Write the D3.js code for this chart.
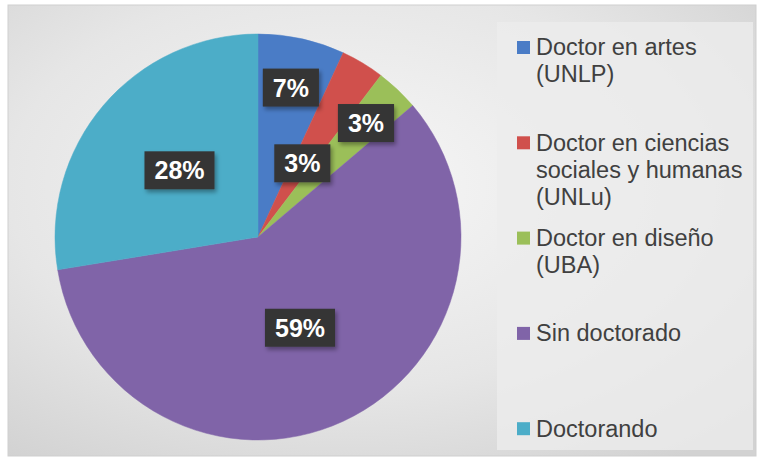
<!DOCTYPE html>
<html lang="es">
<head>
<meta charset="utf-8">
<script src="https://cdn.jsdelivr.net/npm/d3@7"></script>
<style>
    body { margin: 0; background: #fff; }
    svg { display: block; font-family: "Liberation Sans", Arial, sans-serif; }
</style>
</head>
<body>
<div id="chart"></div>
<script>
    // data: counts behind the rounded percentages
    const categories = [
        'Doctor en artes (UNLP)',
        'Doctor en ciencias sociales y humanas (UNLu)',
        'Doctor en diseño (UBA)',
        'Sin doctorado',
        'Doctorando'
    ];
    const values = [2, 1, 1, 17, 8];
    const legendLines = [
        ['Doctor en artes', '(UNLP)'],
        ['Doctor en ciencias', 'sociales y humanas', '(UNLu)'],
        ['Doctor en diseño', '(UBA)'],
        ['Sin doctorado'],
        ['Doctorando']
    ];
    const colors = ['#4a7cc6', '#d0504c', '#9bbf59', '#8064a8', '#4cadc8'];
    // where Excel put each data label (distance from centre, px)
    const labelRadius = [153, 86, 157, 100, 103];

    const width = 762, height = 465;
    const cx = 258, cy = 237, radius = 203;

    const svg = d3.select('#chart').append('svg')
        .attr('width', width).attr('height', height);

    const defs = svg.append('defs');
    const bg = defs.append('radialGradient')
        .attr('id', 'bg')
        .attr('cx', '0.45').attr('cy', '0.4').attr('r', '0.75');
    bg.append('stop').attr('offset', '0%').attr('stop-color', '#f7f7f7');
    bg.append('stop').attr('offset', '60%').attr('stop-color', '#e6e6e6');
    bg.append('stop').attr('offset', '100%').attr('stop-color', '#d2d2d2');

    const shadow = defs.append('filter').attr('id', 'shadow')
        .attr('x', '-20%').attr('y', '-20%').attr('width', '150%').attr('height', '160%');
    shadow.append('feDropShadow')
        .attr('dx', 2).attr('dy', 3).attr('stdDeviation', 2)
        .attr('flood-color', '#000').attr('flood-opacity', 0.35);

    // chart area frame
    svg.append('rect')
        .attr('x', 8).attr('y', 5)
        .attr('width', 748).attr('height', 451)
        .attr('fill', 'url(#bg)')
        .attr('stroke', '#cfcfcf');

    // legend panel
    svg.append('rect')
        .attr('x', 497).attr('y', 22)
        .attr('width', 256).attr('height', 428)
        .attr('fill', '#ececec').attr('opacity', 0.8);

    const pie = d3.pie().sort(null).value(d => d)(values);
    const arc = d3.arc().innerRadius(0).outerRadius(radius);

    const g = svg.append('g').attr('transform', `translate(${cx},${cy})`);

    g.selectAll('path.slice')
        .data(pie)
        .enter()
        .append('path')
        .attr('class', 'slice')
        .attr('d', arc)
        .attr('fill', (d, i) => colors[i])
        .attr('stroke', (d, i) => colors[i])
        .attr('stroke-width', 0.5);

    const total = d3.sum(values);
    const fmt = v => Math.round(v / total * 100) + '%';

    const labels = g.selectAll('g.label')
        .data(pie)
        .enter()
        .append('g')
        .attr('class', 'label')
        .attr('transform', (d, i) => {
            const r = labelRadius[i];
            const c = d3.arc().innerRadius(r).outerRadius(r).centroid(d);
            return `translate(${c[0]},${c[1]})`;
        });

    labels.each(function(d) {
        const lg = d3.select(this);
        const box = lg.append('rect').attr('fill', '#363636').attr('filter', 'url(#shadow)');
        const t = lg.append('text')
            .attr('text-anchor', 'middle')
            .attr('dy', '0.36em')
            .attr('fill', '#fff')
            .attr('font-weight', 'bold')
            .attr('font-size', 25)
            .text(fmt(d.data));
        const w = t.node().getComputedTextLength() + 20;
        box.attr('x', -w / 2).attr('y', -19).attr('width', w).attr('height', 38);
    });

    // legend
    const legendTop = 47, entryStep = 95.3, lineStep = 27;
    const legend = svg.append('g').attr('class', 'legend');
    const item = legend.selectAll('g')
        .data(categories)
        .enter()
        .append('g')
        .attr('transform', (d, i) => `translate(517,${legendTop + i * entryStep})`);

    item.append('rect')
        .attr('x', 0).attr('y', -6)
        .attr('width', 13).attr('height', 13)
        .attr('fill', (d, i) => colors[i]);

    item.append('text')
        .attr('fill', '#404040')
        .attr('font-size', 23.5)
        .selectAll('tspan')
        .data((d, i) => legendLines[i])
        .enter()
        .append('tspan')
        .attr('x', 19)
        .attr('y', (d, j) => j * lineStep)
        .attr('dy', '0.36em')
        .text(d => d);
</script>
</body>
</html>
